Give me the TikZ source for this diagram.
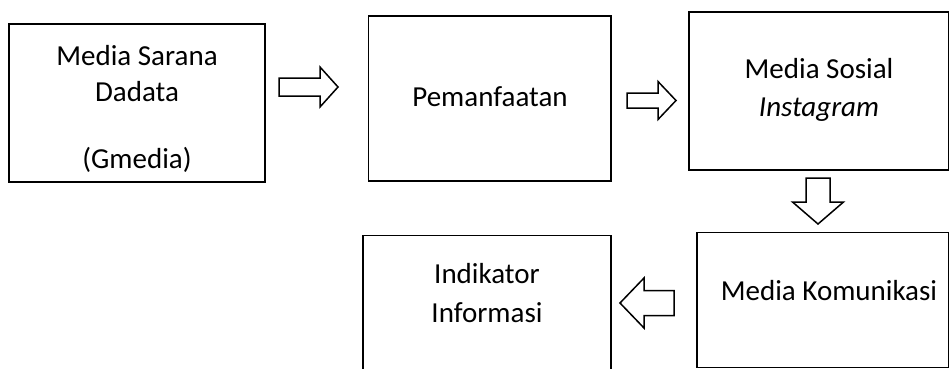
\documentclass[tikz,border=0pt]{standalone}
\usepackage{fontspec}
\setmainfont{Carlito}
\usetikzlibrary{calc}
\tikzset{
  boxline/.style={draw=black, line width=1.9pt, fill=none, inner sep=0pt, outer sep=0pt, rectangle},
  arrowline/.style={draw=black, line width=1.5pt, line join=miter, fill=white},
  lbl/.style={anchor=base, inner sep=0pt, font=\fontsize{29}{37}\selectfont}
}
\newcommand\blockarr[5]{%
  \coordinate (tmpH) at ($(#2)!#5!(#1)$);
  \draw[arrowline] ($(#1)!#3!90:(#2)$) -- ($(tmpH)!#3!90:(#2)$) -- ($(tmpH)!#4!90:(#2)$) -- (#2)
    -- ($(tmpH)!#4!-90:(#2)$) -- ($(tmpH)!#3!-90:(#2)$) -- ($(#1)!#3!-90:(#2)$) -- cycle;}
\begin{document}
\begin{tikzpicture}[x=1pt,y=-1pt]
\clip (0,0) rectangle (950,369);
\fill[white] (0,0) rectangle (950,369);
% boxes
\node[boxline, minimum width=256pt, minimum height=158pt] (b1) at (137,103) {};
\node[boxline, minimum width=242.5pt, minimum height=165pt] (b2) at (489.75,98.5) {};
\node[boxline, minimum width=259.5pt, minimum height=158pt] (b3) at (818.75,91) {};
\node[boxline, minimum width=251.5pt, minimum height=135pt] (b4) at (822.75,300) {};
\node[boxline, minimum width=248pt, minimum height=154.5pt] (b5) at (487,312.75) {};
% texts
\node[lbl] (t1a) at (137,66) {Media Sarana};
\node[lbl] (t1b) at (137,101.5) {Dadata};
\node[lbl] (t1c) at (137,168) {(Gmedia)};
\node[lbl] (t2) at (490,106) {Pemanfaatan};
\node[lbl] (t3a) at (819,78) {Media Sosial};
\node[lbl] (t3b) at (819,116) {\itshape Instagram};
\node[lbl] (t4) at (829,300) {Media Komunikasi};
\node[lbl] (t5a) at (487,283) {Indikator};
\node[lbl] (t5b) at (487,322) {Informasi};
% block arrows between boxes
\coordinate (a1s) at ($(b1.east)+(14,-16)$);
\coordinate (a1e) at ($(b1.east)+(73,-16)$);
\blockarr{a1s}{a1e}{9pt}{20pt}{18pt}
\coordinate (a2s) at ($(b2.east)+(16,2)$);
\coordinate (a2e) at ($(b2.east)+(65,2)$);
\blockarr{a2s}{a2e}{7.5pt}{19pt}{18pt}
\coordinate (a3s) at ($(b3.south)+(-0.75,8)$);
\coordinate (a3e) at ($(b3.south)+(-0.75,54)$);
\blockarr{a3s}{a3e}{12pt}{25.5pt}{22pt}
\coordinate (a4s) at ($(b4.west)+(-23,3)$);
\coordinate (a4e) at ($(b4.west)+(-77,3)$);
\blockarr{a4s}{a4e}{12.5pt}{25pt}{24pt}
\end{tikzpicture}
\end{document}
